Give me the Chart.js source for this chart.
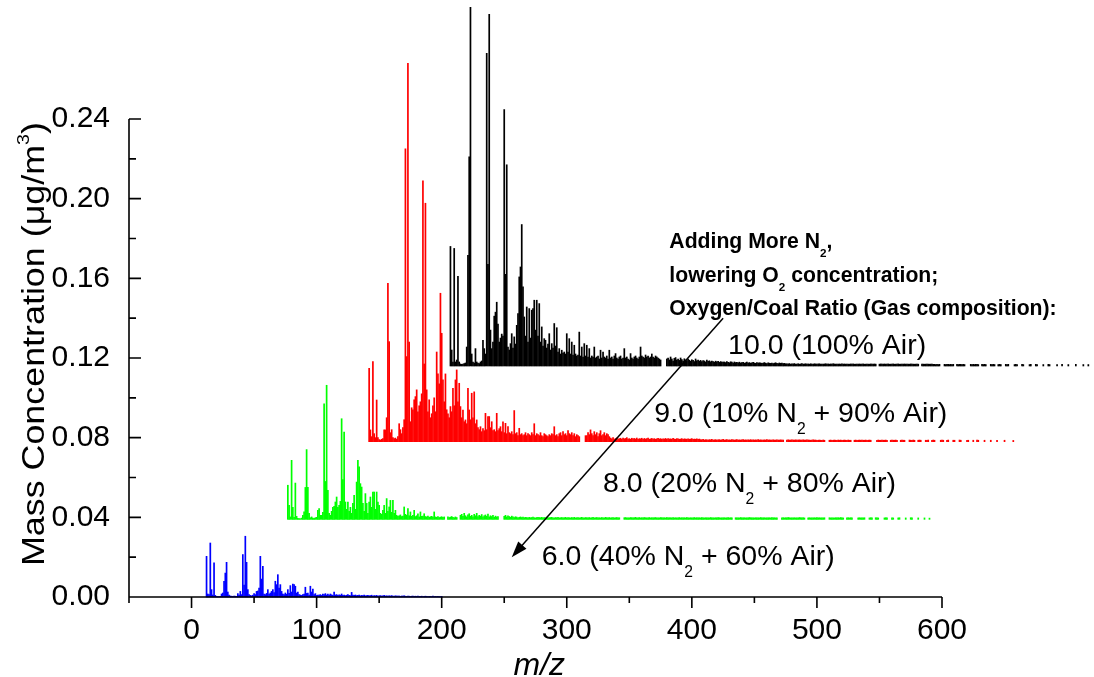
<!DOCTYPE html>
<html>
<head>
<meta charset="utf-8">
<title>Mass spectra vs. oxygen/coal ratio</title>
<script src="https://cdn.jsdelivr.net/npm/chart.js@4.4.1/dist/chart.umd.min.js"></script>
<style>
  html, body { margin: 0; padding: 0; background: #fff; }
  #wrap { width: 1094px; height: 677px; }
</style>
</head>
<body>
<div id="wrap"><canvas id="spectraChart" width="1094" height="677"></canvas></div>
<script>
// Stick spectra, one value per integer m/z starting at firstMz.
// Values are in units of 1e-4 ug/m3 (see UNIT).
const firstMz = 12;
const UNIT = 1e-4;

// O/C = 6.0 (40% N2 + 60% Air)
const blueVals = [
  204,15,12,271,37,10,171,8,3,2, 2,3,15,20,79,120,174,25,10,5,
  4,3,5,4,3,17,10,28,12,213, 60,305,174,37,12,8,6,9,17,12,
  28,30,45,204,90,154,15,12,18,37, 14,20,28,37,22,79,62,112,45,62,
  28,15,12,20,14,37,18,57,25,65, 62,54,20,25,12,10,8,12,15,49,
  18,20,10,54,25,40,12,17,8,10, 9,12,8,15,12,17,10,14,9,15,
  11,8,25,10,12,8,11,9,15,8, 10,7,9,12,8,7,23,9,8,10,
  7,8,9,6,8,7,10,6,7,8, 6,7,9,5,7,6,8,5,6,7,
  5,6,8,5,6,4,6,5,7,5, 4,6,5,4,5,3,5,4,6,4,
  3,5,4,3,4,5,3,4,3,4, 3,3,4,2,3,4,3,2,3,3,
  2,4,2,3,2,3,2,2,3
];

// O/C = 8.0 (20% N2 + 80% Air)
const greenVals = [
  171,70,12,296,60,10,182,15,5,4, 3,6,20,37,160,350,160,30,8,12,
  6,5,8,10,45,54,20,20,35,580, 190,673,146,30,20,40,60,65,87,112,
  60,70,90,505,200,438,87,50,87,40, 60,30,80,120,50,187,296,263,179,162,
  80,40,129,80,30,87,112,60,137,137, 50,137,87,70,30,25,45,70,30,104,
  40,62,95,35,95,30,45,20,15,18, 22,14,16,62,25,20,54,18,37,15,
  20,45,14,18,28,12,37,15,16,28, 14,12,16,10,13,15,11,37,12,10,
  14,9,11,13,10,12,0,0,12,9, 11,14,10,8,12,9,0,0,20,25,
  15,30,18,12,22,28,15,20,12,25, 18,30,14,20,16,24,12,18,22,15,
  26,12,18,14,20,10,16,12,14,0, 0,0,0,15,20,12,18,14,10,16,
  12,9,13,11,8,10,12,9,11,8, 10,9,7,10,8,9,11,8,7,9, 10,
  9,8,10,7,9,8,11,7,8,9,10,8,7,9,8,10,7,8,9,7,
  8,10,7,9,8,7,9,8,10,7,8,9,7,8,10,8,7,9,8,7,
  9,7,8,10,7,8,9,7,8,7,9,8,7,10,8,7,9,7,8,9,
  7,8,9,7,8,0,0,0,8,9,7,8,7,9,8,7,8,10,7,8,
  9,7,8,7,9,8,7,8,9,7,8,7,8,9,7,8,7,9,8,7,
  8,7,9,7,8,8,7,9,7,8,7,8,9,7,8,7,8,7,9,8,
  7,8,7,8,9,7,8,7,8,7,9,8,7,8,7,8,7,9,7,8,
  7,8,7,9,8,7,8,7,8,7,8,9,7,8,7,0,0,8,7,8,
  7,9,8,7,8,7,8,7,9,8,7,8,7,8,7,8,7,9,8,7,
  8,7,8,7,8,7,9,7,8,7,8,0,0,0,7,8,7,8,7,9,
  8,7,8,7,8,7,8,7,9,8,7,8,7,0,0,7,8,7,8,7,
  8,7,9,7,8,7,8,7,8,0,0,0,8,7,8,7,7,8,7,8,
  7,9,8,7,0,0,7,8,7,8,7,0,0,0,0,7,8,7,8,7,
  8,0,0,0,7,8,7,0,0,8,7,7,0,0,0,0,7,8,7,0,
  0,0,8,7,0,0,0,7,8,0,0,0,0,7,0,0,0,8,7,0,
  0,0,0,7,0,0,0,0,7,0,0,0,6
];

// O/C = 9.0 (10% N2 + 90% Air)
const redVals = [
  368,59,25,402,40,20,209,20,10,8, 12,15,59,59,120,795,502,45,60,20,
  15,18,12,25,90,60,40,70,110,1470, 427,1900,500,100,170,160,210,226,260,150,
  180,200,240,1310,390,1197,260,150,210,120, 140,180,220,150,450,340,290,745,544,310,
  200,340,160,140,120,176,150,268,180,310, 360,200,293,176,120,159,100,109,90,268,
  159,110,243,120,250,90,109,70,60,75, 50,65,55,142,60,126,126,70,100,55,
  60,50,142,55,65,75,50,100,45,92, 40,75,45,40,50,35,156,40,45,30,
  67,35,40,30,35,45,30,40,35,30, 45,35,90,30,40,35,30,45,30,25,
  40,35,30,25,35,30,40,35,75,30, 35,25,40,45,30,50,35,40,30,55,
  40,35,45,30,40,25,35,30,25,0, 0,0,0,30,30,45,35,59,40,30,
  50,35,45,25,40,55,30,35,45,30, 40,35,25,
  18,14,20,12,16,19,13,15,17,12,18,14,16,20,13,15,12,17,14,16,
  13,18,12,15,14,17,12,16,13,15,18,12,14,16,13,15,12,14,17,13,
  15,12,14,13,16,12,15,13,14,12,16,13,12,15,14,12,13,15,12,14,
  13,12,14,12,13,15,12,13,12,14,11,13,
  10,9,11,8,10,9,8,10,9,11,8,9,10,8,9,10,8,9,11,8,
  9,10,8,9,8,10,9,8,9,10,8,9,8,9,10,8,9,8,9,8,
  10,8,9,8,9,8,10,8,9,8,8,9,8,10,8,9,8,8,9,8,
  8,9,8,8,9,8,8,0,0,8,9,8,8,9,8,8,9,8,8,9,
  8,8,9,8,8,9,8,8,7,8,9,8,8,7,
  7,8,7,7,8,7,0,0,0,7,8,7,7,8,7,7,8,7,8,7,
  7,8,7,7,8,7,7,0,0,7,8,7,7,8,7,8,7,7,8,7,
  7,8,7,0,0,0,0,7,8,7,7,8,7,7,8,7,0,0,7,8,
  7,7,8,7,0,0,7,8,7,7,0,0,0,8,7,7,8,7,0,0,
  7,8,7,0,0,0,7,7,8,0,0,7,8,7,0,0,0,0,7,8,
  7,0,0,7,8,0,0,0,7,7,0,0,0,8,7,0,0,0,0,7,
  7,0,0,0,7,0,0,8,7,0,0,0,0,7,0,0,0,0,7,0,
  0,0,0,7,0,0,0,0,0,7,0,0,0,0,0,0,6
];

// O/C = 10.0 (100% Air)
const blackVals = [
  600,80,20,590,20,30,450,20,10,8, 10,12,15,95,556,1050,1800,60,20,15,
  87,20,15,12,20,25,129,87,60,1570, 510,1766,180,87,120,250,270,320,210,120,
  140,160,150,1287,460,1010,95,80,112,162, 90,146,110,204,263,447,497,710,397,246,
  150,296,120,288,140,280,288,330,180,330, 150,313,120,196,100,137,129,90,110,162,
  80,112,90,213,100,192,70,87,60,79, 65,70,60,162,70,137,60,120,55,104,
  60,50,55,170,50,95,45,112,50,104, 45,87,40,50,45,95,40,45,50,35,
  79,40,70,45,40,50,35,79,40,45, 35,50,62,40,35,45,50,35,40,87,
  40,45,35,30,62,40,35,45,50,40, 35,45,95,50,45,40,55,45,50,40,
  45,60,45,40,50,45,40,35,30,0, 0,0,0,35,40,30,45,35,25,38,
  42,30,35,28,40,32,25,36,30,27,34,29,24,31,28,22,35,26,30,24,
  28,22,27,25,20,29,23,26,21,25,22,19,24,21,23,18,22,20,19,
  20,17,22,18,16,21,19,15,20,17,18,16,19,15,17,18,14,16,19,15,
  17,14,16,18,15,13,17,14,16,15,13,15,17,14,12,16,14,13,15,12,
  14,16,13,12,15,13,14,12,13,11,
  11,10,12,9,11,10,12,9,10,11,9,10,12,9,10,11,9,10,9,11,
  10,9,11,10,9,10,11,9,10,9,10,11,9,10,9,10,9,11,10,9,
  10,9,10,9,11,9,10,9,10,9,9,10,9,10,9,9,10,9,10,9,
  9,10,9,9,10,9,9,10,9,9,10,9,0,0,9,10,9,9,10,9,
  9,10,9,9,9,10,9,9,9,10,9,9,9,9,10,9,9,9,9,10,
  9,9,9,9,10,9,0,0,9,9,9,9,10,9,9,9,9,
  8,8,7,8,7,8,0,0,0,8,7,8,8,7,8,7,8,0,0,8,
  7,8,8,7,8,7,0,0,0,0,8,7,8,7,8,8,7,0,0,8,
  7,8,7,0,0,0,8,7,8,7,0,0,7,8,7,0,0,0,8,7,
  8,0,0,0,0,7,8,7,0,0,0,8,7,0,0,0,0,7,8,0,
  0,0,8,7,0,0,0,0,7,0,0,0,8,7,0,0,0,0,0,7,
  0,0,0,8,0,0,0,0,7,0,0,0,0,0,8,0,0,0,0,0,7,0,0,0,7
];

// Waterfall offsets of each spectrum (m/z shift, baseline level in ug/m3)
const seriesVals = [blueVals, greenVals, redVals, blackVals];
const mzShift = [0, 65, 130, 195];
const baseLevel = [0, 0.039, 0.078, 0.116];
const seriesNames = ['6.0 (40% N_2 + 60% Air)', '8.0 (20% N_2 + 80% Air)', '9.0 (10% N_2 + 90% Air)', '10.0 (100% Air)'];
const noteLines = ['Adding More N_2,', 'lowering O_2 concentration;', 'Oxygen/Coal Ratio (Gas composition):'];

const xTickValues = [0, 100, 200, 300, 400, 500, 600];
const yTickValues = [0, 0.04, 0.08, 0.12, 0.16, 0.20, 0.24];

// styles and placement (data coordinates)
const seriesColors = ['#0000ff', '#00ff00', '#ff0000', '#000000'];
const labelAt = [[280, 0.016], [329, 0.0529], [370, 0.088], [429, 0.122]];
const noteAt = [[382, 0.1752], [382, 0.1582], [382, 0.1416]];
const arrowFrom = [425, 0.140];
const arrowTo = [256, 0.020];

const FONT = "'Liberation Sans', Arial, Helvetica, sans-serif";

// text with _x subscripts and ^x superscripts
function richParts(text) {
    const parts = [];
    let buf = '';
    for (let i = 0; i < text.length; i++) {
        const c = text[i];
        if ((c === '_' || c === '^') && i + 1 < text.length) {
            if (buf) parts.push({ t: buf, k: 0 });
            buf = '';
            parts.push({ t: text[i + 1], k: c === '_' ? 1 : -1 });
            i++;
        } else {
            buf += c;
        }
    }
    if (buf) parts.push({ t: buf, k: 0 });
    return parts;
}

function richWidth(ctx, text, size, weight) {
    let w = 0;
    richParts(text).forEach(p => {
        ctx.font = `${weight} ${p.k ? size * 0.55 : size}px ${FONT}`;
        w += ctx.measureText(p.t).width;
    });
    return w;
}

function drawRich(ctx, text, x, y, size, weight) {
    let cx = x;
    richParts(text).forEach(p => {
        ctx.font = `${weight} ${p.k ? size * 0.55 : size}px ${FONT}`;
        const dy = p.k === 1 ? size * 0.42 : (p.k === -1 ? -size * 0.5 : 0);
        ctx.fillText(p.t, cx, y + dy);
        cx += ctx.measureText(p.t).width;
    });
}

function toPoints(vals, shift, base) {
    const pts = [];
    vals.forEach((v, i) => {
        if (v > 0) pts.push({ x: firstMz + i + shift, y: [base, base + v * UNIT] });
    });
    return pts;
}

// axis lines and tick marks (y ticks point in, x ticks point out)
const framePlugin = {
    id: 'frame',
    afterDatasetsDraw(chart) {
        const { ctx, chartArea: area, scales: { x, y } } = chart;
        ctx.save();
        ctx.strokeStyle = '#000';
        ctx.lineWidth = 1.6;
        ctx.beginPath();
        ctx.moveTo(area.left, area.top);
        ctx.lineTo(area.left, area.bottom);
        ctx.lineTo(area.right, area.bottom);
        yTickValues.forEach((v, i) => {
            const py = y.getPixelForValue(v);
            ctx.moveTo(area.left, py);
            ctx.lineTo(area.left + 12, py);
            if (i > 0) {
                const pm = y.getPixelForValue((v + yTickValues[i - 1]) / 2);
                ctx.moveTo(area.left, pm);
                ctx.lineTo(area.left + 7, pm);
            }
        });
        xTickValues.forEach((v, i) => {
            const px = x.getPixelForValue(v);
            ctx.moveTo(px, area.bottom);
            ctx.lineTo(px, area.bottom + 11);
            const mid = i === 0 ? x.min : (v + xTickValues[i - 1]) / 2;
            const pm = x.getPixelForValue(mid);
            ctx.moveTo(pm, area.bottom);
            ctx.lineTo(pm, area.bottom + 6);
        });
        ctx.stroke();
        ctx.restore();
    }
};

// axis titles, series labels, the note and the arrow
const notesPlugin = {
    id: 'notes',
    afterDraw(chart) {
        const { ctx, chartArea: area, scales: { x, y } } = chart;
        ctx.save();
        ctx.fillStyle = '#000';
        ctx.strokeStyle = '#000';
        ctx.textAlign = 'left';
        ctx.textBaseline = 'alphabetic';

        // y title, rotated
        const yTitle = 'Mass Concentration (\u03bcg/m^3)';
        const ySize = 31;
        const yw = richWidth(ctx, yTitle, ySize, 'normal');
        ctx.save();
        ctx.translate(area.left - 85, y.getPixelForValue(0.127));
        ctx.rotate(-Math.PI / 2);
        ctx.scale(444 / yw, 1);
        drawRich(ctx, yTitle, -yw / 2, 0, ySize, 'normal');
        ctx.restore();

        // x title
        ctx.font = `italic 32px ${FONT}`;
        ctx.textAlign = 'center';
        ctx.fillText('m/z', x.getPixelForValue(278), 675);
        ctx.textAlign = 'left';

        // series labels
        seriesNames.forEach((t, k) => {
            drawRich(ctx, t, x.getPixelForValue(labelAt[k][0]), y.getPixelForValue(labelAt[k][1]), 28.5, 'normal');
        });

        // bold note
        noteLines.forEach((t, k) => {
            drawRich(ctx, t, x.getPixelForValue(noteAt[k][0]), y.getPixelForValue(noteAt[k][1]), 21.2, 'bold');
        });

        // arrow
        const x0 = x.getPixelForValue(arrowFrom[0]), y0 = y.getPixelForValue(arrowFrom[1]);
        const x1 = x.getPixelForValue(arrowTo[0]), y1 = y.getPixelForValue(arrowTo[1]);
        const ang = Math.atan2(y1 - y0, x1 - x0);
        const headLen = 16, headHalf = 5.5;
        ctx.lineWidth = 1.5;
        ctx.beginPath();
        ctx.moveTo(x0, y0);
        ctx.lineTo(x1 - headLen * 0.8 * Math.cos(ang), y1 - headLen * 0.8 * Math.sin(ang));
        ctx.stroke();
        ctx.beginPath();
        ctx.moveTo(x1, y1);
        ctx.lineTo(x1 - headLen * Math.cos(ang) + headHalf * Math.sin(ang), y1 - headLen * Math.sin(ang) - headHalf * Math.cos(ang));
        ctx.lineTo(x1 - headLen * Math.cos(ang) - headHalf * Math.sin(ang), y1 - headLen * Math.sin(ang) + headHalf * Math.cos(ang));
        ctx.closePath();
        ctx.fill();
        ctx.restore();
    }
};

const datasets = seriesVals.map((vals, k) => ({
    label: seriesNames[k].replace('_2', '\u2082'),
    data: toPoints(vals, mzShift[k], baseLevel[k]),
    backgroundColor: seriesColors[k],
    borderWidth: 0,
    barThickness: 1,
    inflateAmount: 0.35,
    grouped: false,
    clip: false
}));

const tickFont = { family: FONT, size: 30 };

new Chart(document.getElementById('spectraChart'), {
    type: 'bar',
    data: { datasets: datasets },
    options: {
        responsive: false,
        animation: false,
        layout: { padding: { left: 0, top: 119, right: 152, bottom: 0 } },
        plugins: {
            legend: { display: false },
            tooltip: { enabled: false }
        },
        scales: {
            x: {
                type: 'linear',
                min: -50,
                max: 600,
                offset: false,
                afterBuildTicks: (s) => { s.ticks = xTickValues.map(v => ({ value: v })); },
                afterFit: (s) => { s.height = 80; },
                grid: { display: false, drawTicks: false },
                border: { display: false },
                ticks: {
                    font: tickFont,
                    color: '#000',
                    padding: 16,
                    maxRotation: 0,
                    autoSkip: false,
                    callback: (v) => String(v)
                }
            },
            y: {
                type: 'linear',
                min: 0,
                max: 0.24,
                afterBuildTicks: (s) => { s.ticks = yTickValues.map(v => ({ value: v })); },
                afterFit: (s) => { s.width = 129; },
                grid: { display: false, drawTicks: false },
                border: { display: false },
                ticks: {
                    font: tickFont,
                    color: '#000',
                    padding: 19,
                    autoSkip: false,
                    callback: (v) => v.toFixed(2)
                }
            }
        }
    },
    plugins: [framePlugin, notesPlugin]
});
</script>
</body>
</html>
